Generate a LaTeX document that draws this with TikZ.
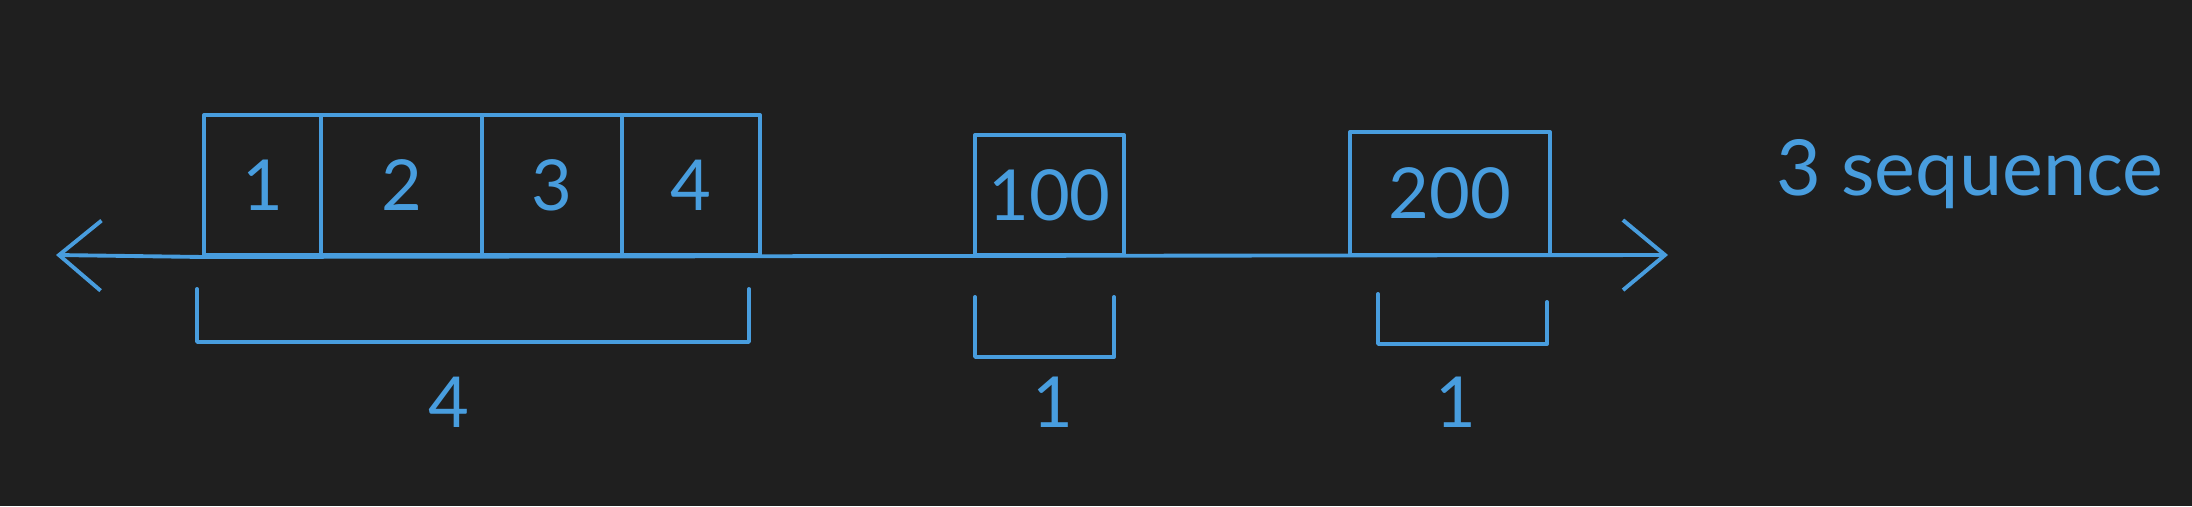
\documentclass[tikz,border=0pt]{standalone}
\usepackage{fontspec}
\setmainfont{Lato}
\usetikzlibrary{arrows.meta,calc}
\definecolor{pen}{RGB}{72,157,222}
\definecolor{board}{RGB}{31,31,31}
\tikzset{
  ink/.style={draw=pen, line width=1.1pt, line cap=round, line join=round},
  cell/.style={ink, rectangle, inner sep=0pt, minimum height=1.4cm, text=pen,
               font=\fontsize{20}{24}\selectfont},
  lbl/.style={text=pen, inner sep=0pt, font=\fontsize{20}{24}\selectfont},
  tip/.style={-{Straight Barb[length=0.42cm,width=0.7cm,line width=1.1pt]}},
}
\begin{document}
\begin{tikzpicture}[x=0.01cm,y=-0.01cm]
\useasboundingbox[fill=board] (0,0) rectangle (2192,506);
% cells of the first sequence
\node[cell, minimum width=1.17cm] (c1) at (262.5,185) {1};
\node[cell, minimum width=1.61cm] (c2) at (401.5,185) {2};
\node[cell, minimum width=1.40cm] (c3) at (552,185) {3};
\node[cell, minimum width=1.38cm] (c4) at (691,185) {4};
% single cells
\node[cell, minimum width=1.49cm, minimum height=1.20cm] (c100) at (1049.5,195) {100};
\node[cell, minimum width=2.00cm, minimum height=1.23cm] (c200) at (1450,193.5) {200};
% axis
\coordinate (L) at (56,255);
\coordinate (R) at (1668,255);
\draw[ink, tip] (c1.south west) -- (L);
\draw[ink, tip] (c1.south west) -- (R);
% brackets
\draw[ink] ($(c1.south west)+(-5,32)$) -- ($(c1.south west)+(-5,85)$)
  -| ($(c4.south east)+(-13,32)$);
\draw[ink] ($(c100.south west)+(2,40)$) -- ($(c100.south west)+(2,100)$)
  -| ($(c100.south east)+(-12,40)$);
\draw[ink] ($(c200.south west)+(30,37)$) -- ($(c200.south west)+(30,87)$)
  -| ($(c200.south east)+(-5,45)$);
% counts
\node[lbl] (n4) at (449,402) {4};
\node[lbl] (n1a) at (1053,402) {1};
\node[lbl] (n1b) at (1456,402) {1};
\node[lbl, font=\fontsize{22}{26}\selectfont, anchor=base] (title) at (1970,195) {3 sequence};
\end{tikzpicture}
\end{document}
